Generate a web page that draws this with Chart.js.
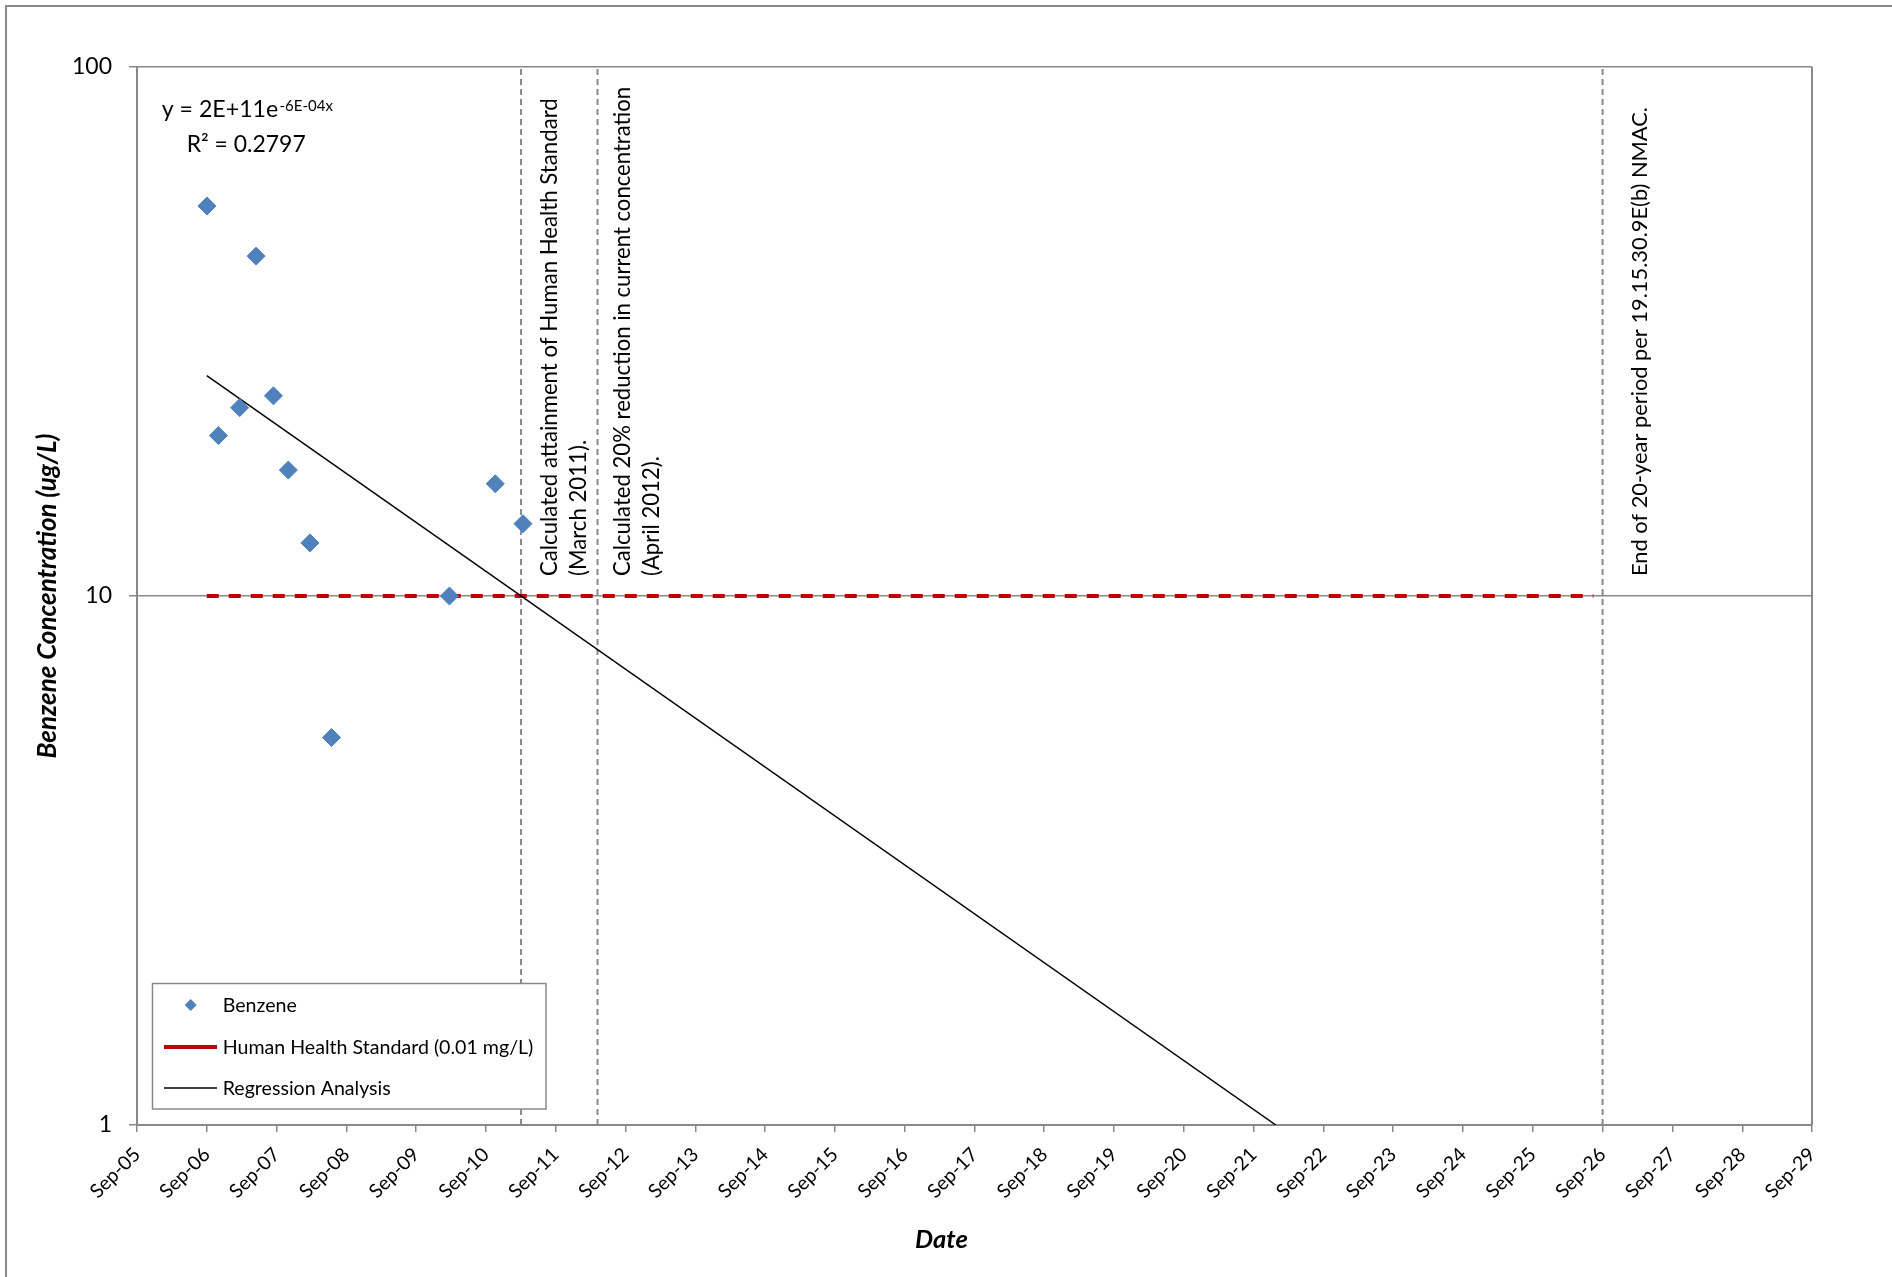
<!DOCTYPE html>
<html>
<head>
<meta charset="utf-8">
<script src="https://cdn.jsdelivr.net/npm/chart.js@4.4.1/dist/chart.umd.min.js"></script>
<style>
html, body { margin: 0; padding: 0; background: #ffffff; }
#wrap { width: 1892px; height: 1277px; position: relative; }
canvas { display: block; }
</style>
</head>
<body>
<div id="wrap"><canvas id="chart" width="1892" height="1277"></canvas></div>
<script>
// ---------------- data ----------------
const benzeneDates  = ['2006-09-02', '2006-11-01', '2007-02-20', '2007-05-17', '2007-08-16', '2007-11-02',
                       '2008-02-23', '2008-06-15', '2010-02-22', '2010-10-20', '2011-03-14'];
const benzeneValues = [54.6, 20.1, 22.7, 43.9, 23.9, 17.3, 12.6, 5.4, 10.0, 16.3, 13.7];

const standardDates  = ['2006-09-01', '2026-07-15'];
const standardValues = [10, 10];

const regressionDates  = ['2006-09-01', '2021-12-26'];
const regressionValues = [26.1, 1.0];

const markerDates = ['2011-03-04', '2012-04-07', '2026-09-01'];
const markerTextLine1 = ['Calculated attainment of Human Health Standard',
                         'Calculated 20% reduction in current concentration',
                         'End of 20-year period per 19.15.30.9E(b) NMAC.'];
const markerTextLine2 = ['(March 2011).', '(April 2012).', ''];

const xRange = ['2005-09-01', '2029-09-01'];
const xTickYears = [2005, 2006, 2007, 2008, 2009, 2010, 2011, 2012, 2013, 2014, 2015, 2016,
                    2017, 2018, 2019, 2020, 2021, 2022, 2023, 2024, 2025, 2026, 2027, 2028, 2029];
const yRange = [1, 100];
const yTickValues = [1, 10, 100];

const equationMain = 'y = 2E+11e';
const equationExp  = '-6E-04x';
const equationR2   = 'R\u00B2 = 0.2797';

const legendLabels = ['Benzene', 'Human Health Standard (0.01 mg/L)', 'Regression Analysis'];
const yTitle = 'Benzene Concentration (ug/L)';
const xTitle = 'Date';

// ---------------- styling ----------------
const FONT = 'Lato, "Open Sans", "DejaVu Sans", sans-serif';
const GRAY = '#898989';
const BLUE = '#4F81BD';
const RED  = '#C00000';

const toMs = s => Date.parse(s + 'T00:00:00Z');
const pairs = (ds, vs) => ds.map((d, i) => ({ x: toMs(d), y: vs[i] }));

function fitFontSize(ctx, text, style, target) {
  ctx.font = style + ' 100px ' + FONT;
  const w = ctx.measureText(text).width;
  return 100 * target / w;
}

const markerLayout = [
  { dx1: 36, dx2: 65, bottom: 576, width: 478 },
  { dx1: 32.7, dx2: 61.7, bottom: 576, width: 489 },
  { dx1: 44, dx2: 73, bottom: 576, width: 469 }
];

const decorPlugin = {
  id: 'decor',
  beforeDraw(chart) {
    const ctx = chart.ctx;
    ctx.save();
    ctx.fillStyle = '#ffffff';
    ctx.fillRect(0, 0, chart.width, chart.height);
    ctx.strokeStyle = GRAY;
    ctx.lineWidth = 2;
    ctx.strokeRect(6, 6, chart.width + 20, chart.height + 20);
    ctx.restore();
  },
  beforeDatasetsDraw(chart) {
    const ctx = chart.ctx, a = chart.chartArea;
    ctx.save();
    ctx.strokeStyle = GRAY;
    ctx.lineWidth = 2;
    ctx.beginPath();
    ctx.moveTo(a.right, a.top);
    ctx.lineTo(a.right, a.bottom);
    ctx.stroke();
    ctx.restore();
  },
  afterDraw(chart) {
    const ctx = chart.ctx;
    const xs = chart.scales.x;
    ctx.save();
    ctx.fillStyle = '#000000';

    // vertical marker annotations
    markerDates.forEach((d, i) => {
      const lay = markerLayout[i];
      const px = xs.getPixelForValue(toMs(d));
      const size = fitFontSize(ctx, markerTextLine1[i], 'normal', lay.width);
      ctx.font = 'normal ' + size.toFixed(2) + 'px ' + FONT;
      ctx.textAlign = 'left';
      ctx.textBaseline = 'alphabetic';
      ctx.save();
      ctx.translate(px + lay.dx1, lay.bottom);
      ctx.rotate(-Math.PI / 2);
      ctx.fillText(markerTextLine1[i], 0, 0);
      ctx.restore();
      if (markerTextLine2[i]) {
        ctx.save();
        ctx.translate(px + lay.dx2, lay.bottom);
        ctx.rotate(-Math.PI / 2);
        ctx.fillText(markerTextLine2[i], 0, 0);
        ctx.restore();
      }
    });

    // regression equation
    ctx.textAlign = 'left';
    ctx.textBaseline = 'alphabetic';
    let s = fitFontSize(ctx, equationMain, 'normal', 116.6);
    ctx.font = 'normal ' + s.toFixed(2) + 'px ' + FONT;
    ctx.fillText(equationMain, 161.7, 117.3);
    s = fitFontSize(ctx, equationExp, 'normal', 53.4);
    ctx.font = 'normal ' + s.toFixed(2) + 'px ' + FONT;
    ctx.fillText(equationExp, 279.5, 110.5);
    s = fitFontSize(ctx, equationR2, 'normal', 119);
    ctx.font = 'normal ' + s.toFixed(2) + 'px ' + FONT;
    ctx.fillText(equationR2, 186.7, 151.7);

    // legend
    const box = { x: 152.5, y: 983.5, w: 393.5, h: 125.5 };
    ctx.fillStyle = '#ffffff';
    ctx.fillRect(box.x, box.y, box.w, box.h);
    ctx.strokeStyle = GRAY;
    ctx.lineWidth = 1.5;
    ctx.strokeRect(box.x, box.y, box.w, box.h);
    const rows = [1005, 1047, 1088];
    ctx.fillStyle = BLUE;
    ctx.beginPath();
    const r = 6;
    ctx.moveTo(190.7 - r, rows[0]);
    ctx.lineTo(190.7, rows[0] - r);
    ctx.lineTo(190.7 + r, rows[0]);
    ctx.lineTo(190.7, rows[0] + r);
    ctx.closePath();
    ctx.fill();
    ctx.strokeStyle = RED;
    ctx.lineWidth = 4;
    ctx.beginPath();
    ctx.moveTo(164, rows[1]);
    ctx.lineTo(217, rows[1]);
    ctx.stroke();
    ctx.strokeStyle = '#000000';
    ctx.lineWidth = 1.5;
    ctx.beginPath();
    ctx.moveTo(164, rows[2]);
    ctx.lineTo(217, rows[2]);
    ctx.stroke();
    s = fitFontSize(ctx, legendLabels[1], 'normal', 310.7);
    ctx.font = 'normal ' + s.toFixed(2) + 'px ' + FONT;
    ctx.fillStyle = '#000000';
    legendLabels.forEach((t, i) => ctx.fillText(t, 222.7, rows[i] + 7));

    // x axis title
    s = fitFontSize(ctx, xTitle, 'italic bold', 52.8);
    ctx.font = 'italic bold ' + s.toFixed(2) + 'px ' + FONT;
    ctx.textAlign = 'center';
    ctx.fillText(xTitle, 941.5, 1248);

    ctx.restore();
  }
};

const markerDatasets = markerDates.map(d => ({
  label: 'marker ' + d,
  type: 'line',
  data: [{ x: toMs(d), y: yRange[0] }, { x: toMs(d), y: yRange[1] }],
  borderColor: GRAY,
  borderWidth: 2,
  borderDash: [6, 4],
  pointRadius: 0,
  fill: false
}));

new Chart(document.getElementById('chart'), {
  type: 'line',
  data: {
    datasets: [
      {
        label: legendLabels[0],
        data: pairs(benzeneDates, benzeneValues),
        showLine: false,
        pointStyle: 'rectRot',
        pointRadius: 9,
        pointBackgroundColor: BLUE,
        pointBorderColor: BLUE,
        pointBorderWidth: 1
      },
      {
        label: legendLabels[2],
        data: pairs(regressionDates, regressionValues),
        borderColor: '#000000',
        borderWidth: 1.5,
        pointRadius: 0,
        fill: false
      },
      {
        label: legendLabels[1],
        data: pairs(standardDates, standardValues),
        borderColor: RED,
        borderWidth: 4,
        borderDash: [12, 10],
        pointRadius: 0,
        fill: false
      },
      ...markerDatasets
    ]
  },
  options: {
    responsive: false,
    animation: false,
    devicePixelRatio: 1,
    layout: { padding: { top: 67, right: 80, left: 0, bottom: 0 } },
    plugins: {
      legend: { display: false },
      tooltip: { enabled: false },
      title: { display: false }
    },
    scales: {
      x: {
        type: 'linear',
        min: toMs(xRange[0]),
        max: toMs(xRange[1]),
        afterBuildTicks: scale => {
          scale.ticks = xTickYears.map(y => ({ value: Date.UTC(y, 8, 1) }));
        },
        afterFit: scale => { scale.height = 152; },
        ticks: {
          autoSkip: false,
          minRotation: 45,
          maxRotation: 45,
          padding: 11,
          color: '#000000',
          font: { family: FONT, size: 19.5 },
          callback: v => 'Sep-' + String(new Date(v).getUTCFullYear()).slice(2)
        },
        grid: {
          drawOnChartArea: false,
          drawTicks: true,
          tickLength: 7,
          color: GRAY,
          lineWidth: 1.5
        },
        border: { display: true, color: GRAY, width: 2 },
        title: { display: false }
      },
      y: {
        type: 'logarithmic',
        min: yRange[0],
        max: yRange[1],
        afterBuildTicks: scale => {
          scale.ticks = yTickValues.map(v => ({ value: v, major: true }));
        },
        afterFit: scale => { scale.width = 137; },
        ticks: {
          padding: 17,
          color: '#000000',
          font: { family: FONT, size: 23 },
          callback: v => String(v)
        },
        grid: {
          color: GRAY,
          lineWidth: 1.5,
          tickLength: 8
        },
        border: { display: true, color: GRAY, width: 2 },
        title: {
          display: true,
          text: yTitle,
          color: '#000000',
          font: { family: FONT, size: 26, weight: 'bold', style: 'italic' },
          padding: { top: 32, bottom: 0 }
        }
      }
    }
  },
  plugins: [decorPlugin]
});
</script>
</body>
</html>
